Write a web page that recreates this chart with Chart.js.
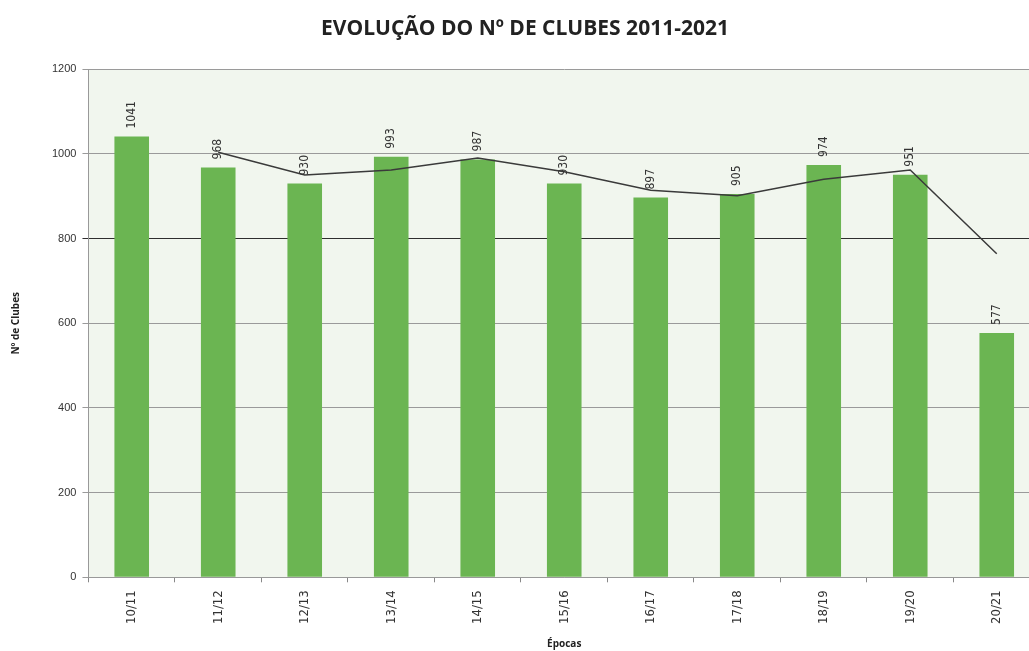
<!DOCTYPE html>
<html>
<head>
<meta charset="utf-8">
<script src="https://cdn.jsdelivr.net/npm/chart.js@4"></script>
<style>
  html, body { margin: 0; padding: 0; background: #fff; overflow: hidden; }
  #wrap { width: 1042px; height: 651px; position: relative; }
</style>
</head>
<body>
<div id="wrap"><canvas id="chart"></canvas></div>
<script>
// Número de clubes por época
const epocas = ['10/11', '11/12', '12/13', '13/14', '14/15', '15/16', '16/17', '17/18', '18/19', '19/20', '20/21'];
const clubes = [1041, 968, 930, 993, 987, 930, 897, 905, 974, 951, 577];
// linha de tendência (média móvel de 2 épocas)
const tendencia = [null, 1004, 950, 962, 990, 958, 914, 901, 940, 962, 764];
const yTicks = [0, 200, 400, 600, 800, 1000, 1200];

const plotBg = {
  id: 'plotBg',
  beforeDraw(chart) {
    const { ctx, chartArea: a } = chart;
    ctx.save();
    ctx.fillStyle = '#f1f6ee';
    ctx.fillRect(a.left, a.top, a.right - a.left, a.bottom - a.top);
    ctx.restore();
  }
};

// rótulos verticais por cima das barras (dataset 1 = barras)
const barLabels = {
  id: 'barLabels',
  afterDatasetsDraw(chart) {
    const { ctx } = chart;
    const meta = chart.getDatasetMeta(1);
    ctx.save();
    ctx.fillStyle = '#333';
    ctx.font = '12px "Liberation Sans Narrow", "DejaVu Sans Condensed", sans-serif';
    ctx.textAlign = 'left';
    ctx.textBaseline = 'middle';
    meta.data.forEach((bar, i) => {
      ctx.save();
      ctx.translate(bar.x, bar.y - 8);
      ctx.rotate(-Math.PI / 2);
      ctx.fillText(String(clubes[i]), 0, 0);
      ctx.restore();
    });
    ctx.restore();
  }
};

new Chart(document.getElementById('chart'), {
  type: 'bar',
  plugins: [plotBg, barLabels],
  data: {
    labels: epocas,
    datasets: [
      {
        type: 'line',
        data: tendencia,
        borderColor: '#3a3a3a',
        borderWidth: 1.5,
        pointRadius: 0,
        tension: 0,
        order: 0,
      },
      {
        data: clubes,
        backgroundColor: '#6bb552',
        barPercentage: 0.4,
        categoryPercentage: 1,
        order: 1,
      }
    ]
  },
  options: {
    responsive: true,
    maintainAspectRatio: false,
    animation: false,
    layout: { padding: { left: 10, right: 2, top: 0, bottom: 1 } },
    plugins: {
      legend: { display: false },
      tooltip: { enabled: false },
      title: {
        display: true,
        text: 'EVOLUÇÃO DO Nº DE CLUBES 2011-2021',
        color: '#222',
        font: { family: '"Open Sans", sans-serif', size: 21, weight: 'bold' },
        padding: { top: 16, bottom: 28 },
      },
    },
    scales: {
      x: {
        grid: { display: true, drawOnChartArea: false, offset: true, color: '#888', tickLength: 5 },
        border: { color: '#999' },
        ticks: {
          color: '#333',
          font: { family: '"Liberation Sans Narrow", "DejaVu Sans Condensed", sans-serif', size: 13 },
          minRotation: 90,
          maxRotation: 90,
          padding: 8,
        },
        title: {
          display: true,
          text: 'Épocas',
          color: '#222',
          font: { family: '"Open Sans", sans-serif', size: 10, weight: 'bold' },
          padding: { top: 6, bottom: 0 },
        },
      },
      y: {
        min: 0,
        max: 1200,
        afterBuildTicks(scale) { scale.ticks = yTicks.map(v => ({ value: v })); },
        grid: {
          color: (c) => c.tick && c.tick.value === 800 ? '#2e2e2e' : '#9a9a9a',
          lineWidth: 1,
          tickLength: 6,
        },
        border: { color: '#999' },
        ticks: {
          color: '#333',
          font: { family: '"Liberation Sans", sans-serif', size: 11 },
          padding: 6,
          callback: (v) => String(v),
        },
        title: {
          display: true,
          text: 'Nº de Clubes',
          color: '#222',
          font: { family: '"Open Sans", sans-serif', size: 10, weight: 'bold' },
          padding: { top: 0, bottom: 24 },
        },
      }
    }
  }
});
</script>
</body>
</html>
